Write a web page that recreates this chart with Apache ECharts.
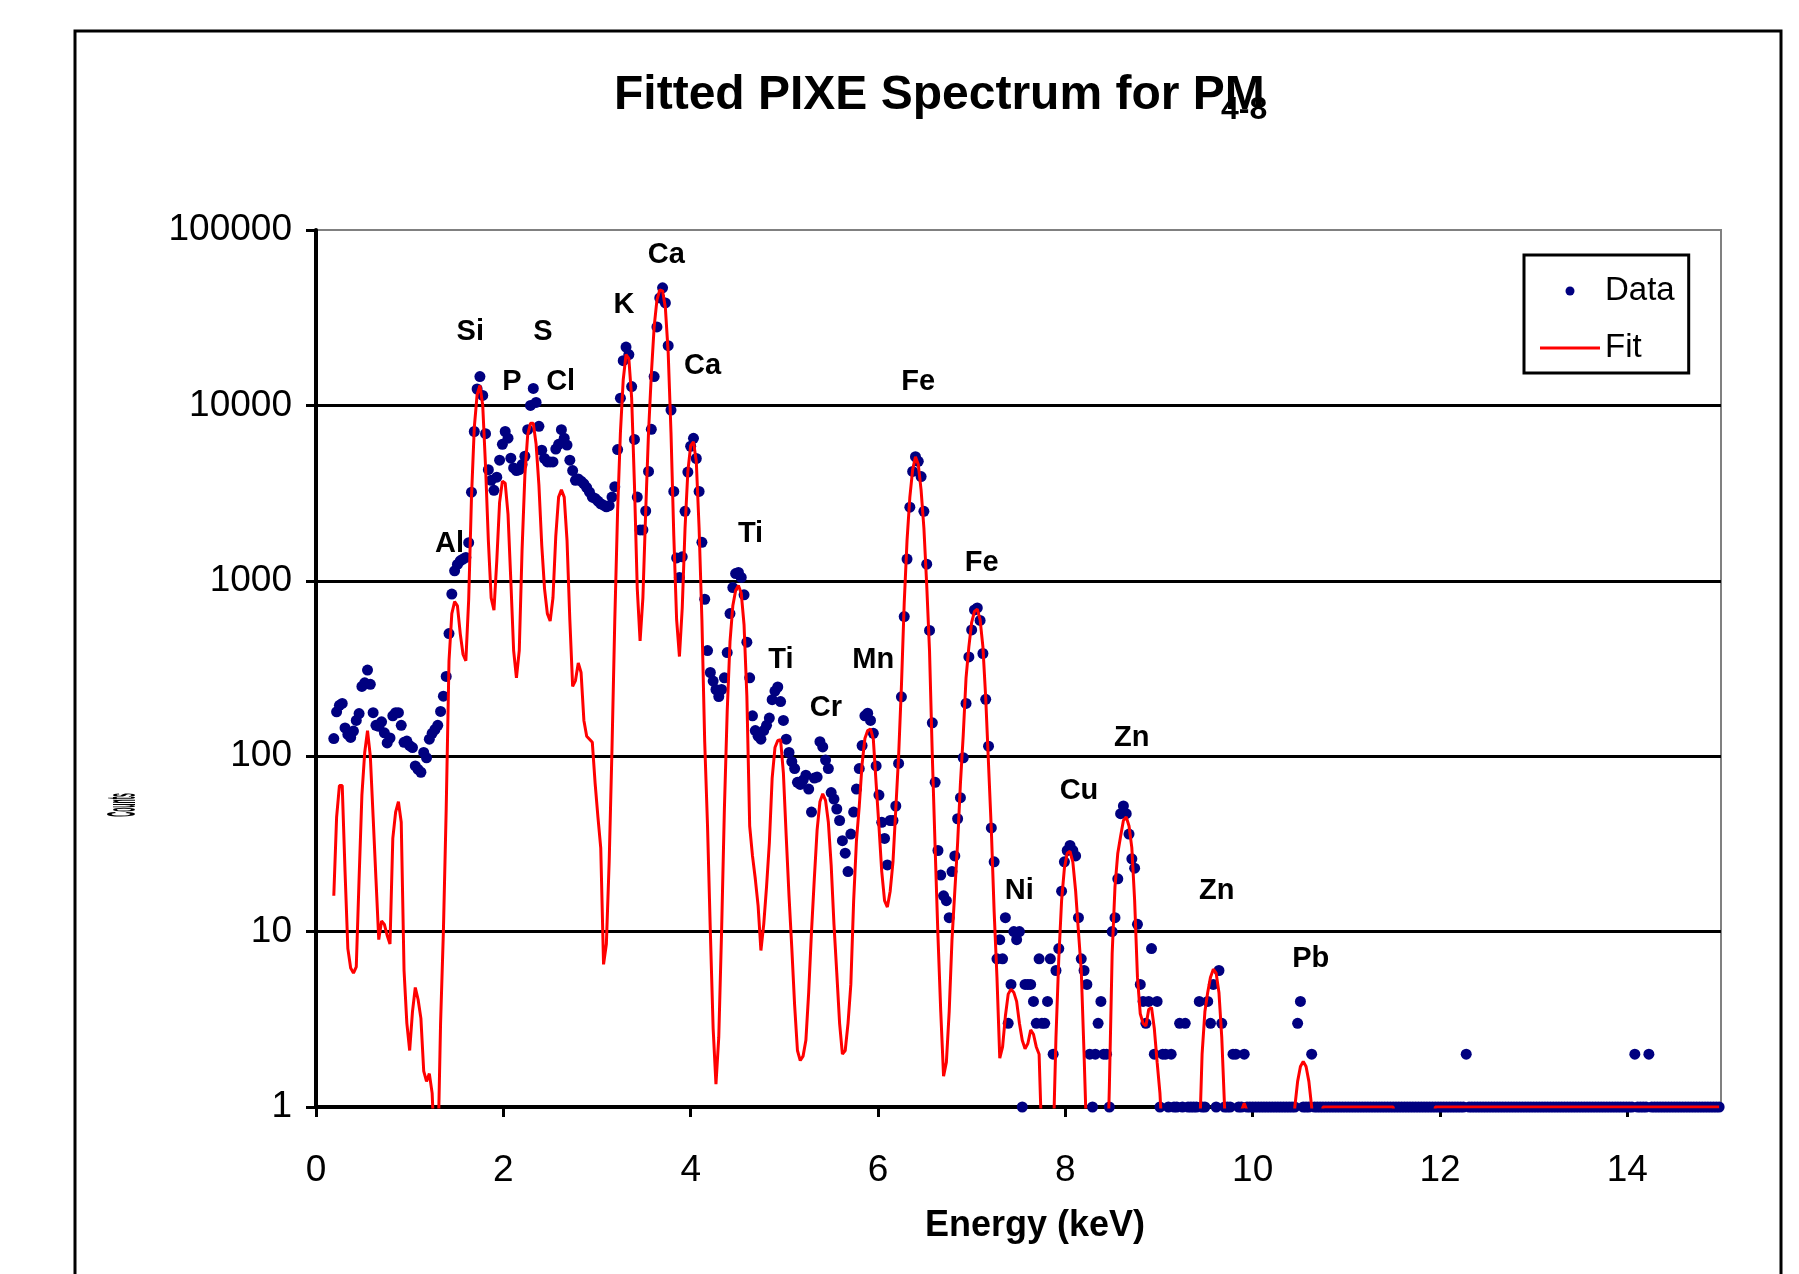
<!DOCTYPE html>
<html><head><meta charset="utf-8">
<script src="https://cdn.jsdelivr.net/npm/echarts@6/dist/echarts.min.js"></script>
<style>html,body{margin:0;padding:0;background:#fff}#c{width:1799px;height:1274px}</style>
</head><body><div id="c"></div>
<script>
// Channel calibration (keV per channel) used for both series
const channelStep = 0.03;

// Measured counts per channel, by segment [first channel energy, values]
const data019 = [126,179,195,200,145,133,128,139,160,175,250,262,310,257,177,150,148,157,136,119,127,170,177,177,150,120,122];
const data100 = [115,112,88,84,81,105,98,125,135,142,150,180,220,285,500,840,1140,1240,1300,1330,1360,1650,3200,7100,12400,14600,11400,6900,4300,3740,3280,3900,4870,6000];
const data202 = [7100,6500,5000,4400,4250,4300,4600,5130,7270,10000,12500,10400,7600,5550,4980,4760,4760,4760,5640,6000,7270,6500,5940,4870,4250,3740,3810,3700,3570,3400,3200,3000,2950];
const data301 = [2850,2750,2700,2640,2680,3000,3440,5600,11000,18000,21500,19500,12800,6400,3000,1950,1950,2500,4200,7300,14600,28000,41000,46800,38400,21900,9400,3230,1350,1045,1370,2490,4170];
const data400 = [5850,6490,4980,3230,1657,785,400,300,268,240,219,240,280,390,650,915,1100,1116,1045,832,447,280,170,140,130,125,140,150,165,210,235,248,205,160];
const data502 = [125,105,93,85,71,69,73,78,65,48,75,76,121,113,95,85,62,57,50,43,33,28,22,36,48,65,85,115,170,176,160,135,88];
const data601 = [60,42,34,24,43,43,52,91,218,625,1330,2630,4200,5100,4800,3930,2490,1243,521,155,71,29,21,16,15,12,22,27,44,58,98,200,368];
const data700 = [525,682,700,594,385,211,114,39,25,7,9,7,12,3,5,10,9,10,1,5,5,5,4,3,7,3,3,4,7,2,6,8,17,25];
const data802 = [29,31,29,27,12,7,6,5,2,1,2,3,4,2,2,1,10,12,20,47,52,47,36,26,23,11,5,4,3,4,8,2,4];
const data901 = [1,2,2,1,2,1,1,3,1,3,1,1,1,1,4,1,1,4,3,5,1,6,3,1,1,1,2,2,1,1,2,1,1];
const data1000 = [1,1,1,1,1,1,1,1,1,1,1,1,1,1,1,1,3,4,1,1,1,2,1,1,1,1,1,1,1,1,1,1,1,1];
const data1102 = [1,1,1,1,1,1,1,1,1,1,1,1,1,1,1,1,1,1,1,1,1,1,1,1,1,1,1,1,1,1,1,1,1];
const data1201 = [1,1,1,1,1,1,1,1,1,2,1,1,1,1,1,1,1,1,1,1,1,1,1,1,1,1,1,1,1,1,1,1,1];
const data1300 = [1,1,1,1,1,1,1,1,1,1,1,1,1,1,1,1,1,1,1,1,1,1,1,1,1,1,1,1,1,1,1,1,1,1];
const data1402 = [1,1,2,1,1,1,1,2,1,1,1,1,1,1,1,1,1,1,1,1,1,1,1,1,1,1,1,1,1,1,1,1,1];

// Fitted curve per channel
const fit019 = [16,45,68,68,22,8,6.2,5.8,6.3,20,60,105,140,100,45,20,9,11.5,11,9.5,8.5,34,48,55,42,6,3];
const fit100 = [2.1,3.5,4.8,4.1,3.2,1.6,1.4,1.55,1.2,0.5,0.5,3,10,50,350,650,760,720,500,380,350,780,3000,7500,11500,13000,10000,4500,1700,800,680,1300,2800,3700];
const fit202 = [3600,2400,1000,400,280,400,1500,4000,6800,7900,7900,6000,3500,1600,900,650,590,800,1800,3000,3300,3000,1700,600,250,270,340,300,160,130,125,120,70];
const fit301 = [45,30,6.5,8.5,25,110,600,2500,7000,14000,19500,18500,11000,3500,900,454,800,2500,7000,15000,28000,40000,45500,45000,36000,20000,7000,1800,600,370,700,2000,4200];
const fit400 = [5900,6200,4800,2000,600,120,40,10,2.8,1.35,2.5,10,50,180,450,720,880,940,850,560,220,40,27,20,14,7.8,11,18,32,75,112,123,124,80];
const fit502 = [35,16,8,3.8,2.1,1.84,1.95,2.4,4.5,10,20,38,55,61,56,42,24,11,5.8,3,2.0,2.1,3,5,15,33,52,90,126,140,143,125,70];
const fit601 = [40,22,15,13.8,17,25,50,100,250,750,1700,3000,4300,5100,4600,3300,2000,950,400,100,30,9.5,3.5,1.5,1.8,3.5,9,17,32,70,132,280,420];
const fit700 = [580,670,690,600,420,215,90,38,13,5.5,1.9,2.2,3.3,4.4,4.7,4.5,4.0,3.0,2.4,2.15,2.3,2.75,2.6,2.2,2.0,0.6,0.3,0.3,0.3,0.6,2.5,7,15,23];
const fit802 = [28,28.7,25,17,10,6,2,0.6,0.3,0.3,0.3,0.3,0.3,0.3,0.3,1.3,7.5,18,28,35,43,45,40,30,15,5.5,3.4,3.0,2.9,3.6,3.7,2.8,1.8];
const fit901 = [1.2,0.6,0.3,0.3,0.3,0.3,0.3,0.3,0.3,0.3,0.3,0.3,0.3,0.3,0.6,2.0,3.5,4.5,5.5,6.1,5.8,4.5,2.5,1.0,0.3,0.3,0.3,0.3,0.3,0.95,1.05,0.95,0.3];
const fit1000 = [0.3,0.3,0.3,0.3,0.3,0.3,0.3,0.3,0.3,0.3,0.3,0.3,0.3,0.3,0.3,1.0,1.4,1.7,1.82,1.7,1.4,1.0,0.3,0.3,0.3,1,1,1,1,1,1,1,1,1];
const fit1102 = [1,1,1,1,1,1,1,1,1,1,1,1,1,1,1,1,1,0.7,0.7,0.7,0.7,0.7,0.7,0.7,0.7,0.7,0.7,0.7,0.7,0.7,0.7,1,1];
const fit1201 = [1,1,1,1,1,1,1,1,1,1,1,1,1,1,1,1,1,1,1,1,1,1,1,1,1,1,1,1,1,1,1,1,1];
const fit1300 = [1,1,1,1,1,1,1,1,1,1,1,1,1,1,1,1,1,1,1,1,1,1,1,1,1,1,1,1,1,1,1,1,1,1];
const fit1402 = [1,1,1,1,1,1,1,1,1,1,1,1,1,1,1,1,1,1,1,1,1,1,1,1,1,1,1,1,1,1,1,1,1];

const segStarts = [0.19,1.00,2.02,3.01,4.00,5.02,6.01,7.00,8.02,9.01,10.00,11.02,12.01,13.00,14.02];
const dataSegs = [data019,data100,data202,data301,data400,data502,data601,data700,data802,data901,data1000,data1102,data1201,data1300,data1402];
const fitSegs = [fit019,fit100,fit202,fit301,fit400,fit502,fit601,fit700,fit802,fit901,fit1000,fit1102,fit1201,fit1300,fit1402];

// Peak annotations
const peakNames = ['Al','Si','P','S','Cl','K','Ca','Ca','Ti','Ti','Cr','Mn','Fe','Fe','Ni','Cu','Zn','Zn','Pb'];
const peakEnergy = [1.426,1.647,2.092,2.423,2.612,3.289,3.741,4.126,4.639,4.963,5.443,5.949,6.43,7.107,7.509,8.146,8.709,9.617,10.62];
const peakLabelCounts = [1618,26180,13650,26180,13650,37180,71600,16790,1847,355,188,355,13650,1259,17,63.4,126.5,17,6.95];

const xTicks = [0,2,4,6,8,10,12,14];

function build(segs){
  const out=[];
  segs.forEach((vals,s)=>vals.forEach((v,k)=>out.push([+(segStarts[s]+k*channelStep).toFixed(2), v])));
  return out;
}

const FF = '"Liberation Sans", Arial, sans-serif';
const chart = echarts.init(document.getElementById('c'));
chart.setOption({
  animation:false,
  backgroundColor:'#fff',
  textStyle:{fontFamily:FF},
  grid:{left:316,top:230,width:1405,height:877,show:true,borderColor:'#808080',borderWidth:2,backgroundColor:'transparent'},
  xAxis:{type:'value',min:0,max:15,interval:2,
    axisLine:{show:true,onZero:false,lineStyle:{color:'#000',width:4}},
    axisTick:{show:true,length:10,customValues:xTicks,lineStyle:{color:'#000',width:3}},
    axisLabel:{show:true,customValues:xTicks,margin:45,fontSize:37,color:'#000',fontFamily:FF,formatter:v=>String(v)},
    splitLine:{show:false}},
  yAxis:{type:'log',logBase:10,min:1,max:100000,
    axisLine:{show:true,lineStyle:{color:'#000',width:4}},
    axisTick:{show:true,length:10,lineStyle:{color:'#000',width:3}},
    axisLabel:{margin:24,fontSize:37,color:'#000',fontFamily:FF,formatter:v=>String(Math.round(v))},
    splitLine:{show:true,showMinLine:false,showMaxLine:false,lineStyle:{color:'#000',width:3}}},
  legend:{data:[{name:'Data',icon:'circle'},{name:'Fit',icon:'path://M0,0L60,0L60,3L0,3Z'}],
    orient:'vertical',left:1524,top:255,itemWidth:60,itemHeight:9,itemGap:21,
    padding:[18,14,7,16],borderColor:'#000',borderWidth:3,backgroundColor:'#fff',selectedMode:false,
    textStyle:{fontSize:33,lineHeight:36,color:'#000',fontFamily:FF}},
  series:[
    {name:'Data',type:'scatter',data:build(dataSegs),symbol:'circle',symbolSize:11,
     itemStyle:{color:'#000080',opacity:1},silent:true,z:2},
    {name:'Fit',type:'line',data:build(fitSegs),symbol:'none',smooth:false,clip:true,
     lineStyle:{color:'#ff0000',width:3},itemStyle:{color:'#ff0000'},silent:true,z:3},
    {name:'labels',type:'scatter',silent:true,z:4,symbolSize:1,itemStyle:{color:'rgba(0,0,0,0)',opacity:1},
     data:peakEnergy.map((e,i)=>({value:[e,peakLabelCounts[i]],name:peakNames[i]})),
     label:{show:true,position:'inside',formatter:'{b}',fontSize:29,fontWeight:'bold',color:'#000',opacity:1,fontFamily:FF}}
  ],
  graphic:[
    {type:'rect',silent:true,z:-1,shape:{x:75,y:31,width:1706,height:1300},style:{fill:'none',stroke:'#000',lineWidth:3}},
    {type:'text',silent:true,x:614,y:96,style:{text:'Fitted PIXE Spectrum for PM',font:'bold 48px "Liberation Sans"',fill:'#000',align:'left',verticalAlign:'middle',textAlign:'left',textVerticalAlign:'middle'}},
    {type:'text',silent:true,x:1221,y:110,style:{text:'4-8',font:'bold 32px "Liberation Sans"',fill:'#000',align:'left',verticalAlign:'middle',textAlign:'left',textVerticalAlign:'middle'}},
    {type:'text',silent:true,x:1035,y:1226,style:{text:'Energy (keV)',font:'bold 36px "Liberation Sans"',fill:'#000',align:'center',verticalAlign:'middle',textAlign:'center',textVerticalAlign:'middle'}},
    {type:'text',silent:true,x:124,y:805,rotation:Math.PI/2,scaleX:0.17,style:{text:'Counts',font:'bold 40px "Liberation Sans"',fill:'#000',align:'center',verticalAlign:'middle',textAlign:'center',textVerticalAlign:'middle'}}
  ]
});
</script></body></html>
